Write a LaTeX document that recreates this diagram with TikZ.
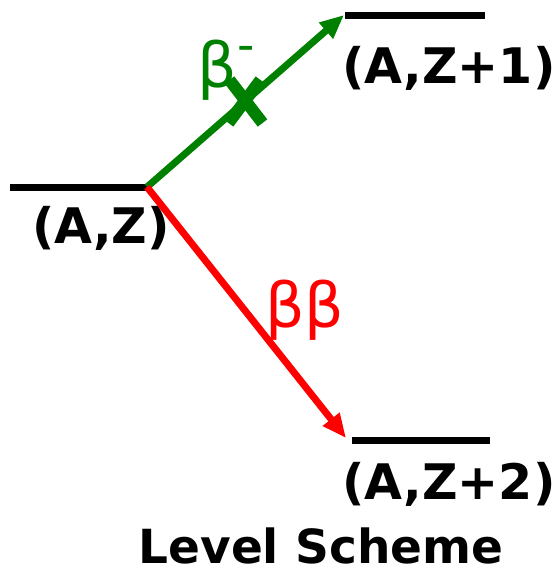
\documentclass[tikz,border=0pt]{standalone}
\usepackage{fontspec}
\setmainfont{DejaVu Sans}
\usetikzlibrary{positioning, arrows.meta, calc}

\definecolor{betagreen}{RGB}{0,128,0}

\tikzset{
  level/.style={line width=7pt},
  decay/.style={line width=7pt, -{Triangle[length=24pt,width=20pt]}},
  lab/.style={inner sep=0pt, font=\fontsize{49}{54}\selectfont\bfseries},
  greek/.style={inner sep=0pt, font=\fontsize{62}{66}\selectfont},
}

\begin{document}
\begin{tikzpicture}[x=1pt, y=-1pt]
      \useasboundingbox (0,0) rectangle (559,570);

      % levels
      \coordinate (azL) at (10,187);
      \coordinate (az) at (147,187);
      \coordinate (az1L) at (345,15);
      \coordinate (az1R) at (485,15);
      \coordinate (az2L) at (352,440);
      \coordinate (az2R) at (490,440);
      \draw[level] (azL) -- (az);
      \draw[level] (az1L) -- (az1R);
      \draw[level] (az2L) -- (az2R);

      \node[lab] (nAZ) at (101,228) {(A,Z)};
      \node[lab] (nAZ1) at (449,68) {(A,Z+1)};
      \node[lab] (nAZ2) at (449,484) {(A,Z+2)};

      % single beta (forbidden)
      \coordinate (tipB) at (344,15);
      \draw[decay, betagreen] (az) -- (tipB);
      \coordinate (mid) at ($(az)!0.5!(tipB)$);
      \draw[betagreen, line width=12pt] ($(mid)+(-16,-21)$) -- ($(mid)+(17,22)$);
      \draw[betagreen, line width=12pt] ($(mid)+(15,-21)$) -- ($(mid)+(-17,22)$);
      \node[greek, text=betagreen] (nB) at (226,70) {β\raisebox{0.42em}{\fontsize{48}{48}\selectfont -}};

      % double beta
      \coordinate (tipBB) at (346,438);
      \draw[decay, red] (az) -- (tipBB);
      \node[greek, text=red] (nBB) at (305,310) {ββ};

      \node[lab, font=\fontsize{47}{52}\selectfont\bfseries] (title) at (321,546) {Level Scheme};
\end{tikzpicture}
\end{document}
